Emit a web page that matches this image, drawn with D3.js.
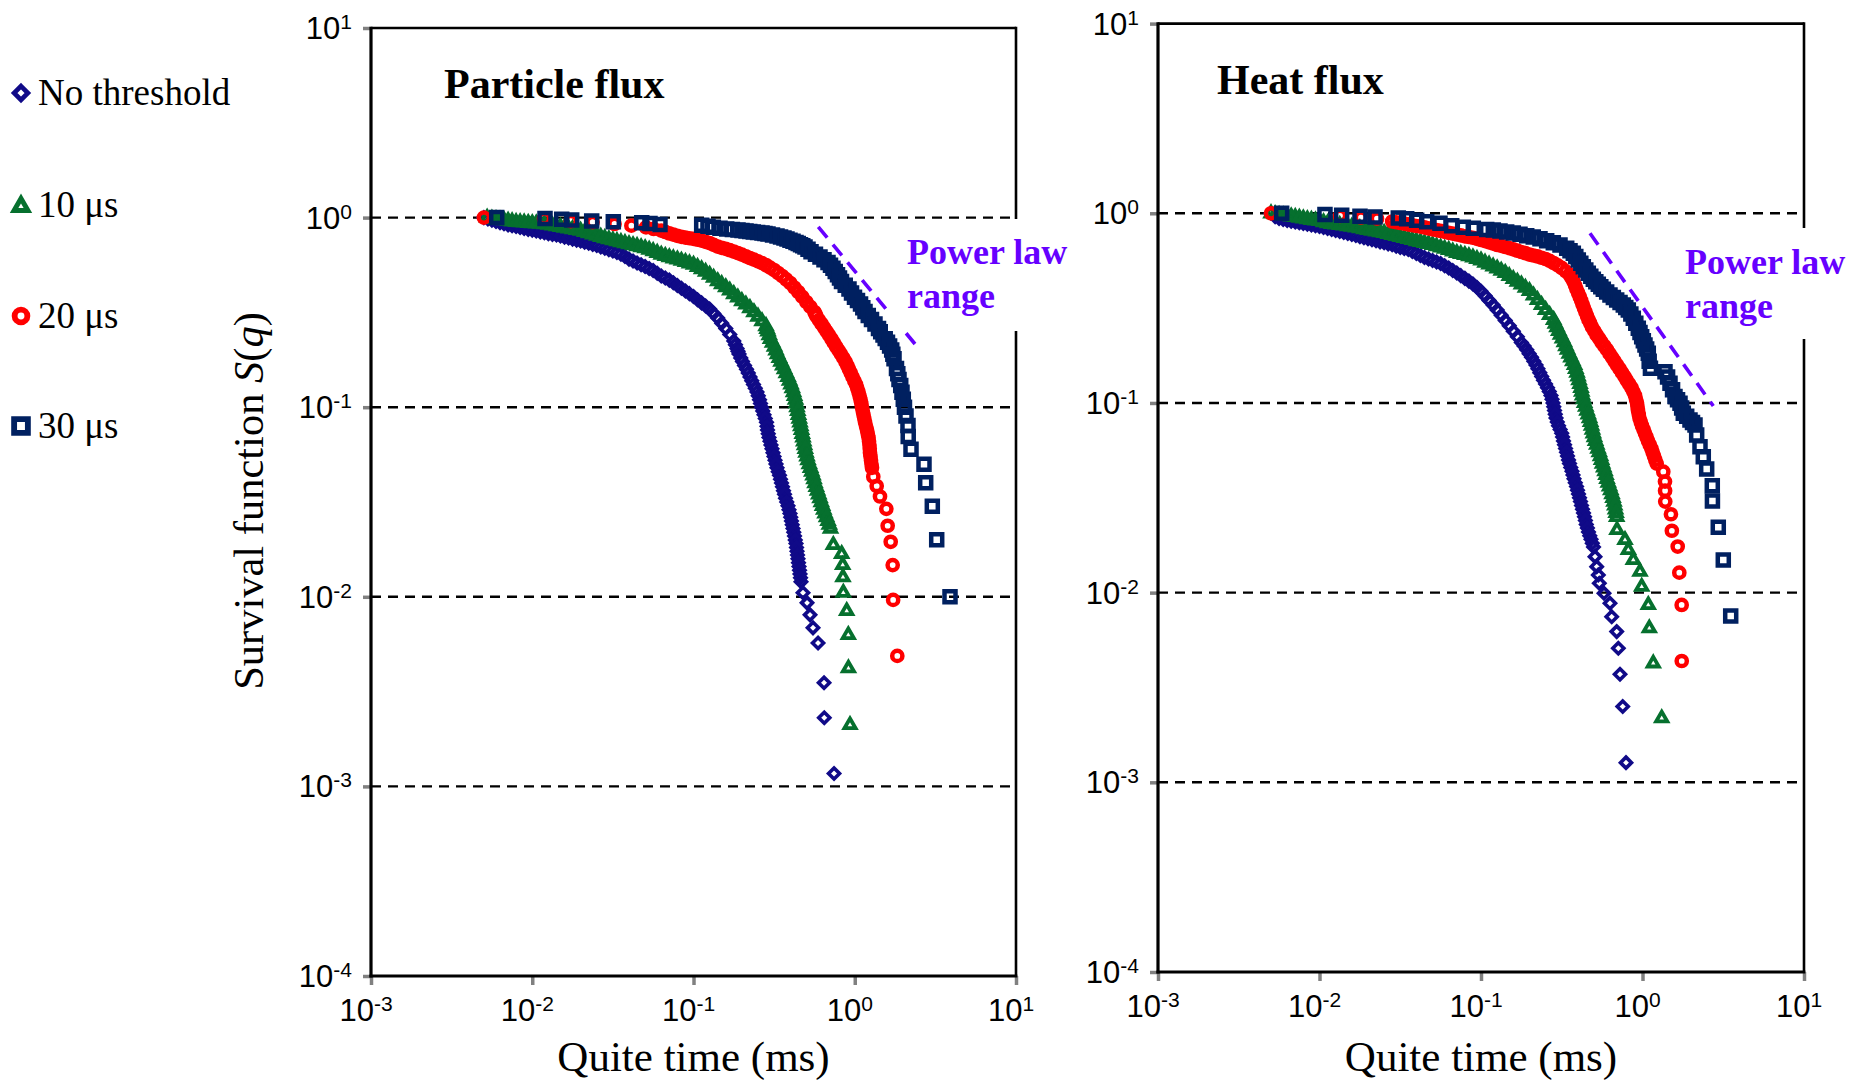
<!DOCTYPE html>
<html><head><meta charset="utf-8">
<script src="https://cdn.jsdelivr.net/npm/d3@7"></script>
<style>body{margin:0;background:#fff}svg{display:block}</style>
</head><body>
<svg id="chart" width="1866" height="1084"></svg>
<script>
// ---------------- data ----------------
const seriesNames = ["No threshold", "10 \u03bcs", "20 \u03bcs", "30 \u03bcs"];
const seriesColors = ["#100a88", "#06702e", "#ff0000", "#002060"];
const seriesShapes = ["diamond", "triangle", "circle", "square"];
const xTickValues = [1e-3, 1e-2, 1e-1, 1, 10];
const xTickExponents = ["-3", "-2", "-1", "0", "1"];
const yTickValues = [10, 1, 1e-1, 1e-2, 1e-3, 1e-4];
const yTickExponents = ["1", "0", "-1", "-2", "-3", "-4"];
const gridValues = [1, 1e-1, 1e-2, 1e-3];

// Particle flux: [quiet time (ms), S(q)]
const particleNoThreshold = [[0.00501,1.0],[0.00562,0.970],[0.00631,0.941],[0.00708,0.915],[0.00794,0.897],[0.00891,0.876],[0.0100,0.859],[0.01122,0.841],[0.01259,0.823],[0.01413,0.809],[0.01585,0.789],[0.01778,0.770],[0.01995,0.752],[0.02239,0.732],[0.02512,0.712],[0.02818,0.690],[0.03162,0.666],[0.03548,0.642],[0.03981,0.604],[0.04467,0.576],[0.05012,0.552],[0.05623,0.526],[0.0631,0.492],[0.07079,0.468],[0.07943,0.438],[0.08913,0.410],[0.1,0.3835],[0.1122,0.355],[0.1259,0.3293],[0.1413,0.2952],[0.1585,0.260],[0.1778,0.2234],[0.1861,0.2037],[0.1915,0.191],[0.2013,0.174],[0.2132,0.1585],[0.2241,0.1445],[0.2355,0.1318],[0.2476,0.1202],[0.2566,0.1096],[0.2641,0.100],[0.2737,0.0912],[0.2836,0.0832],[0.2877,0.0759],[0.2939,0.0692],[0.3023,0.0631],[0.3112,0.0575],[0.3202,0.0525],[0.3295,0.0479],[0.3414,0.0437],[0.3513,0.0398],[0.3615,0.0363],[0.372,0.0331],[0.3855,0.0302],[0.3966,0.0275],[0.4052,0.0251],[0.4141,0.0229],[0.4231,0.0209],[0.4322,0.0191],[0.4384,0.0174],[0.4447,0.01585],[0.4511,0.01445],[0.4576,0.01318],[0.4642,0.01202],[0.4775,0.0105],[0.506,0.00929],[0.528,0.00803],[0.551,0.00686],[0.592,0.00571],[0.645,0.00352],[0.647,0.0023],[0.744,0.00117],
  [0.00531,0.985],[0.00596,0.955],[0.00668,0.928],[0.0075,0.906],[0.00841,0.886],[0.00944,0.867],[0.01059,0.85],[0.01189,0.832],[0.01334,0.816],[0.01496,0.799],[0.01679,0.78],[0.01884,0.761],[0.02113,0.742],[0.02371,0.722],[0.02661,0.701],[0.02985,0.678],[0.0335,0.654],[0.03758,0.623],[0.04217,0.59],[0.04732,0.564],[0.05309,0.539],[0.05957,0.509],[0.06683,0.48],[0.07499,0.453],[0.08414,0.424],[0.09441,0.397],[0.1059,0.369],[0.1189,0.342],[0.1334,0.312],[0.1496,0.2776],[0.1679,0.2417],[0.182,0.2135],[0.1888,0.197],[0.1964,0.182],[0.2072,0.166],[0.2186,0.1514],[0.2298,0.138],[0.2415,0.1259],[0.2521,0.1148],[0.2603,0.1047],[0.2689,0.0955],[0.2786,0.0871],[0.2856,0.0794],[0.2908,0.0724],[0.2981,0.0661],[0.3067,0.0603],[0.3157,0.055],[0.3248,0.0501],[0.3354,0.0457],[0.3463,0.0417],[0.3564,0.038],[0.3667,0.0347],[0.3787,0.0316],[0.391,0.0288],[0.4009,0.0263],[0.4096,0.024],[0.4186,0.0219],[0.4276,0.01995],[0.4353,0.0182],[0.4415,0.0166],[0.4479,0.01514],[0.4543,0.0138],[0.4609,0.01259]];
const particle10us = [[0.00525,1.0],[0.00562,0.988],[0.00631,0.976],[0.00708,0.964],[0.00794,0.948],[0.00891,0.942],[0.0100,0.935],[0.01122,0.930],[0.01259,0.919],[0.01413,0.902],[0.01585,0.886],[0.01778,0.870],[0.01995,0.854],[0.02239,0.829],[0.02512,0.804],[0.02818,0.780],[0.03162,0.761],[0.03548,0.743],[0.03981,0.725],[0.04467,0.708],[0.05012,0.690],[0.05623,0.666],[0.0631,0.638],[0.07079,0.619],[0.07943,0.602],[0.08913,0.584],[0.1,0.565],[0.1122,0.535],[0.1259,0.5006],[0.1413,0.4626],[0.1585,0.430],[0.1778,0.3952],[0.1995,0.363],[0.2239,0.3334],[0.2512,0.3006],[0.2818,0.268],[0.2897,0.251],[0.3002,0.2291],[0.3179,0.2089],[0.3318,0.1905],[0.3488,0.1738],[0.3666,0.1585],[0.3855,0.1445],[0.4024,0.1318],[0.4171,0.1202],[0.4291,0.1096],[0.4384,0.1],[0.4479,0.0912],[0.4576,0.0832],[0.4675,0.0759],[0.4777,0.0692],[0.488,0.0631],[0.4986,0.0575],[0.5131,0.0525],[0.5317,0.0479],[0.551,0.0437],[0.5669,0.0398],[0.5875,0.0363],[0.6089,0.0331],[0.631,0.0302],[0.654,0.0275],[0.6826,0.0251],[0.7075,0.0229],[0.7362,0.01878],[0.8299,0.01683],[0.842,0.01473],[0.845,0.01269],[0.8492,0.01052],[0.8916,0.00843],[0.912,0.0063],[0.914,0.0042],[0.9344,0.00211],
  [0.00596,0.982],[0.00668,0.97],[0.0075,0.956],[0.00841,0.945],[0.00944,0.938],[0.01059,0.932],[0.01189,0.924],[0.01334,0.91],[0.01496,0.894],[0.01679,0.878],[0.01884,0.862],[0.02113,0.841],[0.02371,0.816],[0.02661,0.792],[0.02985,0.77],[0.0335,0.752],[0.03758,0.734],[0.04217,0.716],[0.04732,0.699],[0.05309,0.678],[0.05957,0.652],[0.06683,0.628],[0.07499,0.61],[0.08414,0.593],[0.09441,0.574],[0.1059,0.55],[0.1189,0.518],[0.1334,0.4816],[0.1496,0.4463],[0.1679,0.4126],[0.1884,0.379],[0.2113,0.348],[0.2371,0.317],[0.2661,0.284],[0.2857,0.259],[0.295,0.24],[0.309,0.219],[0.3249,0.1995],[0.3403,0.182],[0.3577,0.166],[0.3761,0.1514],[0.394,0.138],[0.4098,0.1259],[0.4231,0.1148],[0.4338,0.1047],[0.4432,0.0955],[0.4528,0.0871],[0.4626,0.0794],[0.4726,0.0724],[0.4829,0.0661],[0.4933,0.0603],[0.5059,0.055],[0.5224,0.0501],[0.5414,0.0457],[0.559,0.0417],[0.5772,0.038],[0.5982,0.0347],[0.62,0.0316],[0.6425,0.0288],[0.6683,0.0263],[0.695,0.024]];
const particle20us = [[0.00501,1.0],[0.01183,0.988],[0.01734,0.958],[0.02368,0.947],[0.03237,0.926],[0.04119,0.907],[0.05075,0.888],[0.0631,0.854],[0.07079,0.825],[0.07943,0.801],[0.08913,0.784],[0.1,0.772],[0.1122,0.756],[0.1259,0.734],[0.1413,0.703],[0.1585,0.684],[0.1778,0.662],[0.1995,0.638],[0.2239,0.612],[0.2512,0.588],[0.2818,0.562],[0.3162,0.529],[0.3548,0.492],[0.3981,0.4516],[0.4467,0.405],[0.5012,0.3585],[0.5623,0.3176],[0.579,0.302],[0.622,0.2754],[0.6682,0.2512],[0.7176,0.2291],[0.765,0.2089],[0.8217,0.1905],[0.8762,0.1738],[0.921,0.1585],[0.9683,0.1445],[1.018,0.1318],[1.055,0.1202],[1.086,0.1096],[1.109,0.1],[1.133,0.0912],[1.158,0.0832],[1.191,0.0759],[1.217,0.0692],[1.234,0.0631],[1.243,0.0575],[1.261,0.0525],[1.279,0.0479],[1.303,0.0430],[1.368,0.0384],[1.434,0.0338],[1.57,0.0291],[1.60,0.0237],[1.671,0.0195],[1.719,0.0147],[1.73,0.00963],[1.836,0.00488],
  [0.0566,0.871],[0.06683,0.84],[0.07499,0.813],[0.08414,0.792],[0.09441,0.778],[0.1059,0.764],[0.1189,0.745],[0.1334,0.718],[0.1496,0.693],[0.1679,0.673],[0.1884,0.65],[0.2113,0.625],[0.2371,0.6],[0.2661,0.575],[0.2985,0.545],[0.335,0.51],[0.3758,0.4718],[0.4217,0.428],[0.4732,0.3818],[0.5309,0.338],[0.5706,0.31],[0.6,0.288],[0.645,0.263],[0.6929,0.24],[0.7413,0.219],[0.7934,0.1995],[0.849,0.182],[0.8986,0.166],[0.9447,0.1514],[0.9932,0.138],[1.037,0.1259],[1.071,0.1148],[1.098,0.1047],[1.121,0.0955],[1.146,0.0871],[1.175,0.0794],[1.204,0.0724],[1.226,0.0661],[1.239,0.0603],[1.252,0.055],[1.27,0.0501]];
const particle30us = [[0.00602,1.0],[0.012,0.99],[0.01523,0.98],[0.01757,0.97],[0.02337,0.96],[0.03182,0.95],[0.04774,0.94],[0.05373,0.93],[0.06196,0.92],[0.1124,0.91],[0.123,0.90],[0.1327,0.89],[0.146,0.88],[0.1607,0.87],[0.1888,0.86],[0.2117,0.85],[0.2349,0.84],[0.266,0.83],[0.2897,0.82],[0.3295,0.80],[0.3641,0.78],[0.3966,0.76],[0.4322,0.74],[0.4609,0.72],[0.4915,0.70],[0.5356,0.66],[0.6089,0.62],[0.6826,0.58],[0.7328,0.54],[0.7816,0.50],[0.8276,0.46],[0.921,0.42],[0.955,0.40],[0.9963,0.38],[1.086,0.35],[1.158,0.32],[1.27,0.29],[1.335,0.275],[1.404,0.26],[1.497,0.24],[1.596,0.22],[1.695,0.20],[1.752,0.18],[1.815,0.16],[1.849,0.15],[1.881,0.14],[1.928,0.13],[1.963,0.12],[2.0,0.11],[2.034,0.10],[2.079,0.09],[2.139,0.08],[2.146,0.07],[2.233,0.06],[2.688,0.05],[2.754,0.04],[3.027,0.03],[3.223,0.02],[3.897,0.01],
  [0.1742,0.865],[0.1999,0.855],[0.2233,0.845],[0.2499,0.835],[0.2774,0.825],[0.309,0.81],[0.3466,0.79],[0.38,0.77],[0.4142,0.75],[0.4463,0.73],[0.476,0.71],[0.5131,0.68],[0.5706,0.64],[0.6446,0.60],[0.7072,0.56],[0.7568,0.52],[0.8043,0.48],[0.8731,0.44],[1.04,0.365],[1.122,0.335],[1.213,0.305],[1.449,0.25],[1.545,0.23],[1.645,0.21],[1.723,0.19]];

// Heat flux: [quiet time (ms), S(q)]
const heatNoThreshold = [[0.00501,1.0],[0.00531,0.96],[0.00562,0.94],[0.00631,0.916],[0.00708,0.900],[0.00794,0.884],[0.00891,0.868],[0.0100,0.852],[0.01122,0.832],[0.01259,0.812],[0.01413,0.792],[0.01585,0.773],[0.01778,0.753],[0.01995,0.734],[0.02239,0.716],[0.02512,0.699],[0.02818,0.682],[0.03162,0.660],[0.03548,0.645],[0.03981,0.614],[0.04467,0.585],[0.05012,0.564],[0.05623,0.544],[0.0631,0.515],[0.07079,0.484],[0.07943,0.4537],[0.08913,0.424],[0.1,0.388],[0.1122,0.3474],[0.1259,0.309],[0.1413,0.2722],[0.1585,0.2388],[0.1778,0.2082],[0.1919,0.191],[0.2055,0.174],[0.2191,0.1585],[0.2313,0.1445],[0.2438,0.1318],[0.2581,0.1202],[0.2713,0.1096],[0.2792,0.1],[0.2852,0.0912],[0.2914,0.0832],[0.302,0.0759],[0.316,0.0692],[0.3242,0.0631],[0.3337,0.0575],[0.3432,0.0525],[0.3532,0.0479],[0.366,0.0437],[0.3766,0.0398],[0.3903,0.0363],[0.4015,0.0331],[0.4131,0.0302],[0.4251,0.0275],[0.4375,0.0251],[0.4487,0.0229],[0.463,0.0209],[0.48,0.0191],[0.4974,0.0174],[0.508,0.01548],[0.5205,0.01371],[0.5325,0.0124],[0.5401,0.0112],[0.5776,0.00993],[0.629,0.00879],[0.6447,0.00747],[0.6922,0.00623],[0.7083,0.00509],[0.7256,0.00371],[0.7541,0.00251],[0.7903,0.00127],
  [0.00596,0.928],[0.00668,0.908],[0.0075,0.892],[0.00841,0.876],[0.00944,0.86],[0.01059,0.842],[0.01189,0.822],[0.01334,0.802],[0.01496,0.782],[0.01679,0.763],[0.01884,0.743],[0.02113,0.725],[0.02371,0.707],[0.02661,0.69],[0.02985,0.671],[0.0335,0.652],[0.03758,0.629],[0.04217,0.599],[0.04732,0.574],[0.05309,0.554],[0.05957,0.529],[0.06683,0.499],[0.07499,0.469],[0.08414,0.439],[0.09441,0.406],[0.1059,0.367],[0.1189,0.328],[0.1334,0.29],[0.1496,0.2555],[0.1679,0.2235],[0.1848,0.1996],[0.1987,0.182],[0.2123,0.166],[0.2252,0.1514],[0.2376,0.138],[0.251,0.1259],[0.2647,0.1148],[0.2753,0.1047],[0.2822,0.0955],[0.2883,0.0871],[0.2967,0.0794],[0.309,0.0724],[0.3201,0.0661],[0.329,0.0603],[0.3385,0.055],[0.3482,0.0501],[0.3596,0.0457],[0.3713,0.0417],[0.3835,0.038],[0.3959,0.0347],[0.4073,0.0316],[0.4191,0.0288],[0.4313,0.0263],[0.4431,0.024],[0.4559,0.0219],[0.4715,0.01995],[0.4887,0.0182]];
const heat10us = [[0.00501,1.0],[0.00562,0.98],[0.00631,0.968],[0.00708,0.956],[0.00794,0.939],[0.00891,0.924],[0.0100,0.911],[0.01122,0.886],[0.01259,0.873],[0.01413,0.862],[0.01585,0.849],[0.01778,0.834],[0.01995,0.817],[0.02239,0.802],[0.02512,0.788],[0.02818,0.768],[0.03162,0.750],[0.03548,0.732],[0.03981,0.714],[0.04467,0.697],[0.05012,0.681],[0.05623,0.660],[0.0631,0.641],[0.07079,0.618],[0.07943,0.603],[0.08913,0.585],[0.1,0.564],[0.1122,0.537],[0.1259,0.512],[0.1413,0.4845],[0.1585,0.4504],[0.1778,0.4215],[0.1995,0.3896],[0.2239,0.349],[0.2512,0.3093],[0.2818,0.2739],[0.2955,0.251],[0.3106,0.229],[0.328,0.209],[0.3432,0.191],[0.3608,0.174],[0.3793,0.1585],[0.3931,0.1445],[0.4044,0.1318],[0.4161,0.1202],[0.4251,0.1096],[0.4375,0.1],[0.4533,0.0912],[0.4697,0.0832],[0.4833,0.0759],[0.496,0.0692],[0.5117,0.0631],[0.5303,0.0575],[0.5495,0.0525],[0.5653,0.0479],[0.5859,0.0437],[0.6028,0.0398],[0.6248,0.0363],[0.6474,0.0331],[0.6662,0.0302],[0.6806,0.0275],[0.6922,0.0251],[0.695,0.0214],[0.7791,0.01896],[0.8168,0.0168],[0.877,0.01487],[0.9649,0.0129],[0.9886,0.01075],[1.086,0.00861],[1.102,0.00649],[1.166,0.00424],[1.315,0.00218],
  [0.00531,0.99],[0.00596,0.974],[0.00668,0.962],[0.0075,0.948],[0.00841,0.932],[0.00944,0.918],[0.01059,0.898],[0.01189,0.88],[0.01334,0.868],[0.01496,0.856],[0.01679,0.842],[0.01884,0.826],[0.02113,0.81],[0.02371,0.795],[0.02661,0.778],[0.02985,0.759],[0.0335,0.741],[0.03758,0.723],[0.04217,0.706],[0.04732,0.689],[0.05309,0.67],[0.05957,0.65],[0.06683,0.63],[0.07499,0.61],[0.08414,0.594],[0.09441,0.574],[0.1059,0.55],[0.1189,0.524],[0.1334,0.498],[0.1496,0.467],[0.1679,0.436],[0.1884,0.405],[0.2113,0.369],[0.2371,0.329],[0.2661,0.291],[0.2886,0.262],[0.303,0.24],[0.3193,0.219],[0.3356,0.1995],[0.352,0.182],[0.37,0.166],[0.3862,0.1514],[0.3988,0.138],[0.4103,0.1259],[0.4206,0.1148],[0.4313,0.1047],[0.4454,0.0955],[0.4615,0.0871],[0.4765,0.0794],[0.4897,0.0724],[0.5039,0.0661],[0.521,0.0603],[0.5399,0.055],[0.5574,0.0501],[0.5756,0.0457],[0.5944,0.0417],[0.6138,0.038],[0.6361,0.0347],[0.6568,0.0316],[0.6734,0.0288],[0.6864,0.0263]];
const heat20us = [[0.00501,1.0],[0.01339,0.968],[0.01807,0.95],[0.0227,0.937],[0.02818,0.905],[0.03162,0.889],[0.03548,0.873],[0.03981,0.857],[0.04467,0.842],[0.05012,0.822],[0.05623,0.807],[0.0631,0.789],[0.07079,0.773],[0.07943,0.756],[0.08913,0.743],[0.1,0.723],[0.1122,0.702],[0.1259,0.681],[0.1413,0.664],[0.1585,0.645],[0.1778,0.625],[0.1995,0.606],[0.2239,0.592],[0.2512,0.574],[0.2818,0.547],[0.3162,0.515],[0.3548,0.473],[0.374,0.437],[0.3903,0.398],[0.4086,0.363],[0.4251,0.331],[0.4436,0.302],[0.463,0.275],[0.4867,0.251],[0.5191,0.229],[0.5574,0.209],[0.6028,0.191],[0.6474,0.174],[0.6952,0.1585],[0.7466,0.1445],[0.7983,0.1318],[0.8548,0.1202],[0.8987,0.1096],[0.9245,0.1],[0.9378,0.0912],[0.9581,0.0832],[0.9929,0.0759],[1.036,0.0692],[1.082,0.0631],[1.134,0.0575],[1.178,0.0525],[1.224,0.0479],[1.345,0.0434],[1.378,0.0385],[1.38,0.0345],[1.383,0.0302],[1.50,0.0259],[1.52,0.0212],[1.652,0.0175],[1.69,0.01275],[1.748,0.00861],[1.75,0.00436],
  [0.02985,0.897],[0.0335,0.881],[0.03758,0.865],[0.04217,0.85],[0.04732,0.832],[0.05309,0.815],[0.05957,0.798],[0.06683,0.781],[0.07499,0.765],[0.08414,0.75],[0.09441,0.733],[0.1059,0.713],[0.1189,0.692],[0.1334,0.673],[0.1496,0.655],[0.1679,0.635],[0.1884,0.616],[0.2113,0.599],[0.2371,0.583],[0.2661,0.561],[0.2985,0.531],[0.335,0.494],[0.3644,0.455],[0.3822,0.417],[0.3995,0.38],[0.4169,0.347],[0.4344,0.316],[0.4533,0.288],[0.4749,0.263],[0.5029,0.24],[0.5383,0.219],[0.5801,0.1995],[0.6251,0.182],[0.6713,0.166],[0.7209,0.1514],[0.7725,0.138],[0.8266,0.1259],[0.8768,0.1148],[0.9116,0.1047],[0.9312,0.0955],[0.948,0.0871],[0.9755,0.0794],[1.014,0.0724],[1.059,0.0661],[1.108,0.0603],[1.156,0.055],[1.201,0.0501]];
const heat30us = [[0.00583,1.0],[0.01081,0.985],[0.01372,0.975],[0.01781,0.965],[0.02207,0.955],[0.03076,0.945],[0.03467,0.935],[0.03997,0.92],[0.04612,0.902],[0.05572,0.885],[0.06586,0.86],[0.0777,0.845],[0.0896,0.833],[0.1085,0.822],[0.1192,0.817],[0.1311,0.807],[0.1442,0.797],[0.1585,0.787],[0.1744,0.775],[0.1919,0.762],[0.2107,0.75],[0.2319,0.735],[0.2551,0.717],[0.2804,0.70],[0.3085,0.681],[0.3394,0.654],[0.3729,0.615],[0.4004,0.567],[0.43,0.523],[0.4617,0.4828],[0.496,0.4489],[0.5325,0.4223],[0.5719,0.3975],[0.629,0.371],[0.6922,0.349],[0.7605,0.3285],[0.8168,0.309],[0.877,0.2796],[0.9419,0.2475],[0.9886,0.2236],[1.036,0.2021],[1.086,0.1828],[1.10,0.166],[1.12,0.1524],[1.378,0.1462],[1.48,0.127],[1.589,0.108],[1.707,0.0996],[1.789,0.0882],[1.968,0.0813],[2.114,0.0766],[2.165,0.0678],[2.27,0.0588],[2.379,0.0521],[2.497,0.0449],[2.705,0.03665],[2.71,0.03044],[2.946,0.02212],[3.164,0.01487],[3.517,0.00754],
  [0.3558,0.634],[0.3864,0.591],[0.415,0.545],[0.4456,0.503],[0.4786,0.466],[0.514,0.436],[0.5519,0.41],[0.6,0.384],[0.66,0.36],[0.726,0.339],[0.788,0.319],[0.847,0.294],[0.909,0.263],[0.965,0.2355],[1.012,0.2128],[1.061,0.1925],[1.43,0.137],[1.535,0.1175],[1.648,0.104],[1.748,0.094],[1.878,0.085],[2.04,0.079]];

// power-law guide lines: [quiet time, S] at both ends
const particlePowerLaw = [[0.594, 0.894], [2.364, 0.2154]];
const heatPowerLaw = [[0.473, 0.784], [2.744, 0.0964]];

// ---------------- drawing ----------------
const svg = d3.select("#chart");
const SERIF = "'Liberation Serif','Times New Roman',serif";
const SANS = "'Liberation Sans',Arial,sans-serif";

function shapePath(shape, k) {
  k = k || 1;
  if (shape === "diamond") { const r = 5.5 * k; return `M0,${-r}L${r},0L0,${r}L${-r},0Z`; }
  if (shape === "triangle") { const R = 6.4 * k; return `M0,${-R}L${R*0.866},${R/2}L${-R*0.866},${R/2}Z`; }
  if (shape === "circle") { const r = 5.1 * k; return `M${r},0A${r},${r} 0 1,1 ${-r},0A${r},${r} 0 1,1 ${r},0Z`; }
  const s = 11 * k; return `M${-s/2},${-s/2}h${s}v${s}h${-s}Z`;
}
const shapeStroke = {diamond: 3.6, triangle: 3.8, circle: 4.5, square: 4.5};

const panels = [
  {title: "Particle flux", titleX: 444, titleY: 98, left: 371, right: 1016, top: 28, bottom: 976,
   series: [particleNoThreshold, particle10us, particle20us, particle30us], power: particlePowerLaw,
   box: [888, 219, 200, 112], textX: 907, textY: [264, 308], xTitleX: 693.5},
  {title: "Heat flux", titleX: 1217, titleY: 94, left: 1158, right: 1804, top: 23.6, bottom: 972,
   series: [heatNoThreshold, heat10us, heat20us, heat30us], power: heatPowerLaw,
   box: [1675, 228, 191, 111], textX: 1685, textY: [274, 318], xTitleX: 1481}
];

panels.forEach(p => {
  const x = d3.scaleLog().domain([1e-3, 10]).range([p.left, p.right]);
  const y = d3.scaleLog().domain([1e-4, 10]).range([p.bottom, p.top]);
  const g = svg.append("g");

  // dashed gridlines
  g.selectAll("line.grid").data(gridValues).join("line").attr("class", "grid")
    .attr("x1", p.left).attr("x2", p.right).attr("y1", d => y(d)).attr("y2", d => y(d))
    .attr("stroke", "#000").attr("stroke-width", 2.4).attr("stroke-dasharray", "10 7");

  // axes ticks via d3 axes
  g.append("g").attr("transform", `translate(0,${p.bottom})`)
    .call(d3.axisBottom(x).tickValues(xTickValues).tickSize(9).tickFormat(() => ""))
    .call(a => a.select(".domain").remove())
    .call(a => a.selectAll(".tick line").attr("stroke", "#808080").attr("stroke-width", 3.5));
  g.append("g").attr("transform", `translate(${p.left},0)`)
    .call(d3.axisLeft(y).tickValues(yTickValues).tickSize(8).tickFormat(() => ""))
    .call(a => a.select(".domain").remove())
    .call(a => a.selectAll(".tick line").attr("stroke", "#808080").attr("stroke-width", 3.5));

  // frame
  g.append("line").attr("x1", p.left).attr("x2", p.right).attr("y1", p.top).attr("y2", p.top)
    .attr("stroke", "#000").attr("stroke-width", 2.6);
  g.append("line").attr("x1", p.right).attr("x2", p.right).attr("y1", p.top - 1.3).attr("y2", p.bottom)
    .attr("stroke", "#000").attr("stroke-width", 2.6);
  g.append("line").attr("x1", p.left).attr("x2", p.left).attr("y1", p.top - 1.3).attr("y2", p.bottom + 1.5)
    .attr("stroke", "#000").attr("stroke-width", 3.2);
  g.append("line").attr("x1", p.left - 1.5).attr("x2", p.right + 1.3).attr("y1", p.bottom).attr("y2", p.bottom)
    .attr("stroke", "#000").attr("stroke-width", 3.2);

  // tick labels
  g.selectAll("text.yl").data(yTickValues).join("text").attr("class", "yl")
    .attr("x", p.left - 19).attr("y", d => y(d) + 11).attr("text-anchor", "end")
    .attr("font-family", SANS).attr("font-size", 31).attr("fill", "#000")
    .each(function(d, i) {
      const t = d3.select(this);
      t.append("tspan").text("10");
      t.append("tspan").attr("font-size", 21).attr("dy", -10).text(yTickExponents[i]);
    });
  g.selectAll("text.xl").data(xTickValues).join("text").attr("class", "xl")
    .attr("x", d => x(d) - 5).attr("y", p.bottom + 45).attr("text-anchor", "middle")
    .attr("font-family", SANS).attr("font-size", 31).attr("fill", "#000")
    .each(function(d, i) {
      const t = d3.select(this);
      t.append("tspan").text("10");
      t.append("tspan").attr("font-size", 21).attr("dy", -10).text(xTickExponents[i]);
    });

  // series markers
  p.series.forEach((data, si) => {
    const shape = seriesShapes[si];
    g.append("g").selectAll("path").data(data).join("path")
      .attr("d", shapePath(shape))
      .attr("transform", d => `translate(${x(d[0])},${y(d[1])})`)
      .attr("fill", "none").attr("stroke", seriesColors[si])
      .attr("stroke-width", shapeStroke[shape]);
  });

  // power-law guide
  g.append("line")
    .attr("x1", x(p.power[0][0])).attr("y1", y(p.power[0][1]))
    .attr("x2", x(p.power[1][0])).attr("y2", y(p.power[1][1]))
    .attr("stroke", "#6600ff").attr("stroke-width", 3.6).attr("stroke-dasharray", "14 9");

  // text box
  g.append("rect").attr("x", p.box[0]).attr("y", p.box[1]).attr("width", p.box[2]).attr("height", p.box[3])
    .attr("fill", "#fff");
  const pl = g.append("text").attr("font-family", SERIF).attr("font-weight", "bold")
    .attr("font-size", 36).attr("fill", "#6600ff");
  pl.append("tspan").attr("x", p.textX).attr("y", p.textY[0]).text("Power law");
  pl.append("tspan").attr("x", p.textX).attr("y", p.textY[1]).text("range");

  // panel title
  g.append("text").attr("x", p.titleX).attr("y", p.titleY).attr("font-family", SERIF)
    .attr("font-weight", "bold").attr("font-size", 42).attr("fill", "#000").text(p.title);

  // x title
  g.append("text").attr("x", p.xTitleX).attr("y", 1071).attr("text-anchor", "middle")
    .attr("font-family", SERIF).attr("font-size", 43).attr("fill", "#000").text("Quite time (ms)");
});

// y-axis title
const yt = svg.append("text").attr("transform", "translate(263,501) rotate(-90)")
  .attr("text-anchor", "middle").attr("font-family", SERIF).attr("font-size", 42.5).attr("fill", "#000");
yt.append("tspan").text("Survival function ");
yt.append("tspan").attr("font-style", "italic").text("S");
yt.append("tspan").text("(");
yt.append("tspan").attr("font-style", "italic").text("q");
yt.append("tspan").text(")");

// legend
const legendY = [93, 205, 316, 426];
const lg = svg.append("g");
seriesNames.forEach((name, i) => {
  const shape = seriesShapes[i];
  lg.append("path").attr("d", shapePath(shape, 1.25))
    .attr("transform", `translate(21,${legendY[i] + (shape === "triangle" ? 1.5 : 0)})`)
    .attr("fill", "none").attr("stroke", seriesColors[i]).attr("stroke-width", shapeStroke[shape] * 1.3);
  lg.append("text").attr("x", 38).attr("y", legendY[i] + 12).attr("font-family", SERIF)
    .attr("font-size", 37).attr("fill", "#000").text(name);
});
</script>
</body></html>
